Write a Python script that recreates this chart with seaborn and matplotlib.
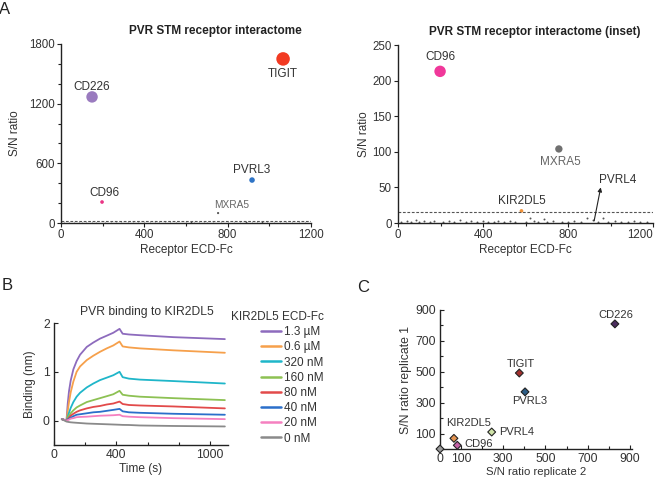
import matplotlib
matplotlib.use("Agg")
import matplotlib.pyplot as plt
import seaborn as sns
import pandas as pd

# ---------------- data ----------------
# Panel A (left): main interactome
main_names = ["TIGIT", "CD226", "PVRL3", "CD96", "MXRA5"]
main_x = [1066, 149, 917, 197, 754]
main_y = [1650, 1268, 432, 211, 100]

# Panel A (right): inset
inset_names = ["CD96", "MXRA5", "KIR2DL5"]
inset_x = [198, 757, 581]
inset_y = [213, 104, 17]

# background receptors (near zero)
bg_x = [15, 40, 60, 85, 100, 120, 150, 170, 210, 240, 265, 290, 320, 345, 370,
        400, 425, 450, 470, 500, 525, 550, 600, 623, 640, 660, 685, 700, 730,
        770, 800, 830, 860, 888, 918, 940, 964, 990, 1020, 1050, 1080, 1110,
        1140, 1170]
bg_y = [2, 3, 2, 4, 2, 3, 2, 3, 2, 3, 2, 4, 2, 3, 2,
        3, 2, 2, 3, 2, 3, 2, 2, 7, 3, 2, 5, 2, 3,
        2, 2, 3, 2, 7, 4, 2, 7, 2, 3, 2, 2, 3,
        2, 2]
threshold = 16
pvrl4_xy = (923, 3)

# Panel B: binding kinetics
time_s = [50, 80, 88, 96, 107, 124, 145, 167, 210, 252, 295, 338, 380, 420,
          440, 480, 550, 765, 1095]
conc_labels = ["1.3 \u00b5M", "0.6 \u00b5M", "320 nM", "160 nM", "80 nM", "40 nM", "20 nM", "0 nM"]
b_13uM = [0.03, 0.0, 0.35, 0.60, 0.82, 1.05, 1.22, 1.35, 1.51, 1.60, 1.68, 1.74, 1.80, 1.88,
          1.78, 1.765, 1.75, 1.71, 1.67]
b_06uM = [0.03, 0.0, 0.20, 0.38, 0.58, 0.80, 1.00, 1.11, 1.24, 1.33, 1.41, 1.48, 1.54, 1.62,
          1.52, 1.50, 1.48, 1.44, 1.39]
b_320nM = [0.03, 0.0, 0.08, 0.16, 0.26, 0.38, 0.49, 0.57, 0.68, 0.76, 0.83, 0.88, 0.93, 1.00,
           0.89, 0.86, 0.84, 0.81, 0.76]
b_160nM = [0.03, 0.0, 0.05, 0.10, 0.15, 0.21, 0.27, 0.31, 0.38, 0.42, 0.46, 0.50, 0.54, 0.61,
           0.53, 0.51, 0.49, 0.46, 0.42]
b_80nM = [0.03, 0.0, 0.03, 0.06, 0.10, 0.14, 0.18, 0.21, 0.25, 0.28, 0.30, 0.33, 0.35, 0.39,
          0.34, 0.32, 0.31, 0.29, 0.25]
b_40nM = [0.03, 0.0, 0.02, 0.04, 0.06, 0.09, 0.12, 0.13, 0.15, 0.17, 0.18, 0.20, 0.22, 0.24,
          0.19, 0.17, 0.16, 0.14, 0.12]
b_20nM = [0.03, 0.0, 0.01, 0.02, 0.04, 0.05, 0.07, 0.075, 0.08, 0.09, 0.10, 0.105, 0.11, 0.12,
          0.09, 0.08, 0.07, 0.05, 0.03]
b_0nM = [0.03, -0.02, -0.025, -0.03, -0.035, -0.04, -0.045, -0.05, -0.06, -0.065, -0.07, -0.075,
         -0.08, -0.085, -0.088, -0.09, -0.10, -0.11, -0.12]

# Panel C: replicate comparison
c_names = ["CD226", "TIGIT", "PVRL3", "PVRL4", "KIR2DL5", "CD96", "other"]
c_rep2 = [829, 376, 403, 245, 66, 82, 0]
c_rep1 = [810, 492, 370, 110, 69, 24, 0]

# ---------------- style ----------------
sns.set_style("ticks")
plt.rcParams["font.family"] = ["Liberation Sans", "DejaVu Sans"]
plt.rcParams["axes.edgecolor"] = "#222222"
plt.rcParams["axes.linewidth"] = 1.0

TXT = "#333333"

fig = plt.figure(figsize=(6.6, 4.78), dpi=100)
W, H = 660.0, 478.0


def add_ax(left, top, right, bottom):
    return fig.add_axes([left / W, 1 - bottom / H, (right - left) / W, (bottom - top) / H])


def style(ax, fs=8.5, direction="out", pad=2):
    sns.despine(ax=ax)
    ax.tick_params(direction=direction, length=3, width=0.8, labelsize=fs,
                   colors="#222222", labelcolor=TXT, pad=pad)
    ax.tick_params(which="minor", direction=direction, length=2, width=0.8, colors="#222222")
    ax.set_facecolor("none")


# ---------- Panel A left ----------
axL = add_ax(61, 44, 311, 223)
main_pal = {"TIGIT": "#f23a22", "CD226": "#9a7bbf", "PVRL3": "#2f74c6",
            "CD96": "#ea3585", "MXRA5": "#555555"}
main_sizes = {"TIGIT": 95, "CD226": 68, "PVRL3": 16, "CD96": 7, "MXRA5": 2.5}
sns.scatterplot(x=bg_x, y=bg_y, ax=axL, color="#555555", s=1.5, linewidth=0)
sns.scatterplot(x=main_x, y=main_y, hue=main_names, palette=main_pal,
                size=main_names, sizes=main_sizes, legend=False, linewidth=0, ax=axL)
axL.axhline(threshold, color="#555555", lw=0.8, ls=(0, (2.5, 1.5)))
axL.set_xlim(0, 1200)
axL.set_ylim(0, 1800)
axL.set_xticks([0, 400, 800, 1200])
axL.set_xticks(range(0, 1201, 200), minor=True)
axL.set_yticks([0, 600, 1200, 1800])
axL.set_yticks(range(0, 1801, 200), minor=True)
style(axL, fs=8.3, pad=1.5)
axL.set_xlabel("Receptor ECD-Fc", fontsize=8.5, color=TXT, labelpad=2)
axL.set_ylabel("S/N ratio", fontsize=8.5, color=TXT, labelpad=6)
axL.set_title("PVR STM receptor interactome", fontsize=8.5, fontweight="bold",
              color="#222222", x=0.616, pad=7)
offs_L = {"TIGIT": (0, -10.8), "CD226": (0, 7.2), "PVRL3": (0, 7.2),
          "CD96": (1.4, 6.5), "MXRA5": (10, 5.8)}
for n, x, y in zip(main_names, main_x, main_y):
    small = n == "MXRA5"
    axL.annotate(n, (x, y), xytext=offs_L[n], textcoords="offset points",
                 ha="center", va="center", fontsize=7.3 if small else 8.5,
                 color="#666666" if small else TXT)

# ---------- Panel A right ----------
axR = add_ax(398, 45, 653, 223)
inset_pal = {"CD96": "#f0389a", "MXRA5": "#707070", "KIR2DL5": "#f0923a"}
inset_sizes = {"CD96": 68, "MXRA5": 28, "KIR2DL5": 7}
sns.scatterplot(x=bg_x, y=bg_y, ax=axR, color="#555555", s=2, linewidth=0)
sns.scatterplot(x=inset_x, y=inset_y, hue=inset_names, palette=inset_pal,
                size=inset_names, sizes=inset_sizes, legend=False, linewidth=0, ax=axR)
axR.axhline(threshold, color="#555555", lw=0.8, ls=(0, (2.5, 1.5)))
axR.set_xlim(0, 1200)
axR.set_ylim(0, 250)
axR.set_xticks([0, 400, 800, 1200])
axR.set_xticks(range(0, 1201, 200), minor=True)
axR.set_yticks(range(0, 251, 50))
style(axR, fs=8.3, pad=1.5)
axR.xaxis.get_major_ticks()[-1].label1.set_horizontalalignment("right")
axR.set_xlabel("Receptor ECD-Fc", fontsize=8.5, color=TXT, labelpad=2)
axR.set_ylabel("S/N ratio", fontsize=8.5, color=TXT, labelpad=2)
axR.set_title("PVR STM receptor interactome (inset)", fontsize=8.5, fontweight="bold",
              color="#222222", x=0.537, pad=7)
offs_R = {"CD96": (0, 10.3), "MXRA5": (0.8, -9.4), "KIR2DL5": (0, 7.2)}
for n, x, y in zip(inset_names, inset_x, inset_y):
    axR.annotate(n, (x, y), xytext=offs_R[n], textcoords="offset points",
                 ha="center", va="center", fontsize=8.5,
                 color="#666666" if n == "MXRA5" else TXT)
axR.annotate("", xy=(954, 50), xytext=pvrl4_xy,
             arrowprops=dict(arrowstyle="-|>", lw=0.8, color="#222222", mutation_scale=6,
                             shrinkA=0, shrinkB=0))
axR.text(1033, 61, "PVRL4", ha="center", va="center", fontsize=8.5, color=TXT)

# ---------- Panel B ----------
axB = add_ax(54, 323, 228, 445)
series_b = [b_13uM, b_06uM, b_320nM, b_160nM, b_80nM, b_40nM, b_20nM, b_0nM]
rows = []
for lab, vals in zip(conc_labels, series_b):
    for t, v in zip(time_s, vals):
        rows.append({"Time": t, "Binding": v, "conc": lab})
dfB = pd.DataFrame(rows)
b_colors = ["#8d6bbd", "#f6a04b", "#1fb6c9", "#8dc153", "#e24a4a", "#2b6fca", "#f580c0", "#8a8a8a"]
sns.lineplot(data=dfB, x="Time", y="Binding", hue="conc", hue_order=conc_labels,
             palette=dict(zip(conc_labels, b_colors)), lw=1.3, ax=axB)
axB.set_xlim(0, 1115)
axB.set_ylim(-0.5, 2.0)
axB.set_xticks([0, 400, 1000])
axB.set_xticks([200, 600, 800], minor=True)
axB.set_yticks([0, 1, 2])
style(axB, fs=8.7, direction="in", pad=3)
axB.set_xlabel("Time (s)", fontsize=8.6, color=TXT, labelpad=1)
axB.set_ylabel("Binding (nm)", fontsize=8.6, color=TXT, labelpad=5)
axB.set_title("PVR binding to KIR2DL5", fontsize=8.7, color=TXT, x=0.534, pad=6)
leg = axB.legend(title="KIR2DL5 ECD-Fc", loc="upper left",
                 bbox_to_anchor=(231 / W, 1 - 311 / H), bbox_transform=fig.transFigure,
                 frameon=False, fontsize=8.5, title_fontsize=8.5, alignment="right",
                 handlelength=1.75, handletextpad=0.25, labelspacing=0.27,
                 borderpad=0, borderaxespad=0)
for t in leg.get_texts():
    t.set_color(TXT)
leg.get_title().set_color(TXT)
for ln in leg.get_lines():
    ln.set_linewidth(1.8)

# ---------- Panel C ----------
axC = add_ax(440, 310, 632, 449)
c_pal = {"CD226": "#4b2c5e", "TIGIT": "#a3302e", "PVRL3": "#2c5d86",
         "PVRL4": "#cfe3a8", "KIR2DL5": "#e39350", "CD96": "#c462a6", "other": "#999999"}
sns.scatterplot(x=c_rep2, y=c_rep1, hue=c_names, palette=c_pal, marker="D", s=16,
                edgecolor="#222222", linewidth=0.8, legend=False, clip_on=False, zorder=5, ax=axC)
axC.set_xlim(0, 910)
axC.set_ylim(0, 900)
axC.set_xticks([0, 100, 300, 500, 700, 900])
axC.set_xticks([200, 400, 600, 800], minor=True)
axC.set_yticks([100, 300, 500, 700, 900])
axC.set_yticks([200, 400, 600, 800], minor=True)
style(axC, fs=8.7, direction="in", pad=3)
axC.set_xlabel("S/N ratio replicate 2", fontsize=8.2, color=TXT, labelpad=1)
axC.set_ylabel("S/N ratio replicate 1", fontsize=8.8, color=TXT, labelpad=2)
offs_C = {"CD226": ((0.5, 6.7), "center"), "TIGIT": ((1, 6.5), "center"),
          "PVRL3": ((3, -6.5), "center"), "PVRL4": ((5.5, 0), "left"),
          "KIR2DL5": ((10.3, 10.8), "center"), "CD96": ((4.8, 1.2), "left")}
for n, x, y in zip(c_names, c_rep2, c_rep1):
    if n in offs_C:
        off, ha = offs_C[n]
        axC.annotate(n, (x, y), xytext=off, textcoords="offset points",
                     ha=ha, va="center", fontsize=8, color=TXT)

# panel letters
fig.text(5 / W, 1 - 9 / H, "A", fontsize=12, color="#222222", va="center", ha="center")
fig.text(7 / W, 1 - 285 / H, "B", fontsize=12, color="#222222", va="center", ha="center")
fig.text(363 / W, 1 - 287 / H, "C", fontsize=12, color="#222222", va="center", ha="center")

fig.savefig("out.png", dpi=100, facecolor="white")
